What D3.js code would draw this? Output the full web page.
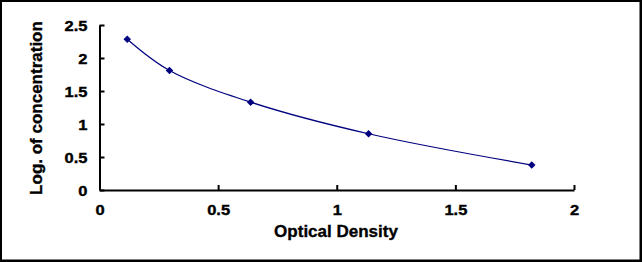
<!DOCTYPE html>
<html>
<head>
<meta charset="utf-8">
<script src="https://cdn.jsdelivr.net/npm/d3@7"></script>
<style>
  body { margin: 0; background: #fff; }
  svg { display: block; font-family: "Liberation Sans", Arial, sans-serif; font-weight: bold; }
  text { stroke: black; stroke-width: 0.35px; }
</style>
</head>
<body>
<div id="vis"></div>
<script>
// standard curve points
var odValues = [0.117, 0.295, 0.637, 1.134, 1.822];
var logConc = [2.284, 1.811, 1.331, 0.852, 0.378];
var xTicks = [0, 0.5, 1, 1.5, 2];
var yTicks = [0, 0.5, 1, 1.5, 2, 2.5];

var W = 642, H = 262;
var svg = d3.select("#vis").append("svg").attr("width", W).attr("height", H);

svg.append("rect").attr("width", W).attr("height", H).attr("fill", "white");

//frame
svg.append("path")
    .attr("d", "M1,1H640.5V260.5H1Z")
    .attr("fill", "none")
    .attr("stroke", "black")
    .attr("stroke-width", 2);
svg.append("path")
    .attr("d", "M641,0V262M0,261H642")
    .attr("stroke", "black")
    .attr("stroke-width", 2);

var x = d3.scaleLinear().domain([0, 2]).range([99.5, 574]);
var y = d3.scaleLinear().domain([0, 2.5]).range([190, 25]);

var fmt = d3.format("");

//x axis
var gx = svg.append("g").attr("transform", "translate(0,190)")
    .call(d3.axisBottom(x).tickValues(xTicks).tickFormat(fmt).tickSize(-5).tickSizeOuter(0));
gx.select(".domain").attr("stroke-width", 2);
gx.selectAll(".tick line").attr("stroke-width", 2);
gx.selectAll(".tick text")
    .attr("x", null).attr("y", null).attr("dy", null)
    .attr("transform", "translate(0,25) scale(1.18,1)")
    .attr("font-size", 14).attr("font-family", null).attr("fill", "black");

//y axis
var gy = svg.append("g").attr("transform", "translate(99.5,0)")
    .call(d3.axisLeft(y).tickValues(yTicks).tickFormat(fmt).tickSize(-5).tickSizeOuter(0));
gy.select(".domain").attr("stroke-width", 2);
gy.selectAll(".tick line").attr("stroke-width", 2);
gy.selectAll(".tick text")
    .attr("x", null).attr("y", null).attr("dy", null)
    .attr("transform", "translate(-12,5) scale(1.18,1)")
    .attr("font-size", 14).attr("font-family", null).attr("fill", "black");
svg.selectAll(".tick text").attr("font-weight", "bold");

//titles
svg.append("text")
    .attr("x", 336).attr("y", 237)
    .attr("text-anchor", "middle")
    .attr("font-size", 17)
    .text("Optical Density");

svg.append("text")
    .attr("transform", "translate(42,108) rotate(-90)")
    .attr("text-anchor", "middle")
    .attr("font-size", 17)
    .text("Log. of concentration");

//curve
var pts = odValues.map(function (d, i) { return [d, logConc[i]]; });
var line = d3.line()
    .x(function (d) { return x(d[0]); })
    .y(function (d) { return y(d[1]); })
    .curve(d3.curveCatmullRom.alpha(0.5));

svg.append("path")
    .datum(pts)
    .attr("d", line)
    .attr("fill", "none")
    .attr("stroke", "#000080")
    .attr("stroke-width", 1.2);

//diamond markers (square turned 45deg)
svg.selectAll(".pt")
    .data(pts)
    .enter().append("path")
    .attr("class", "pt")
    .attr("transform", function (d) { return "translate(" + x(d[0]) + "," + y(d[1]) + ") rotate(45)"; })
    .attr("d", d3.symbol().type(d3.symbolSquare).size(28))
    .attr("fill", "#000080");
</script>
</body>
</html>
